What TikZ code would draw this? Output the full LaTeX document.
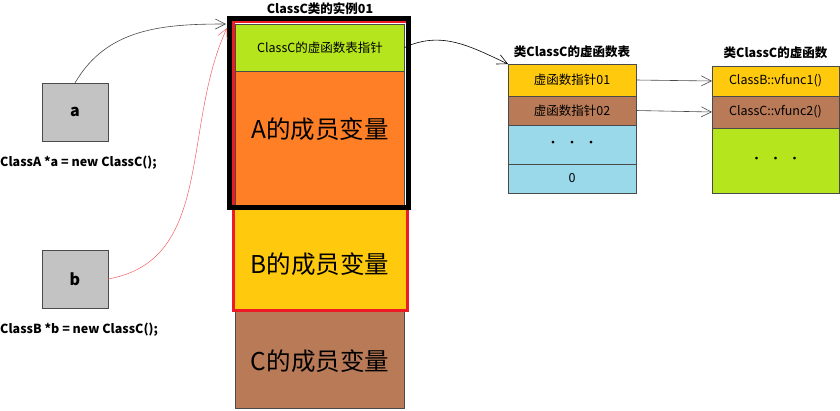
\documentclass[tikz,border=0pt]{standalone}
\usepackage{fontspec}
\setmainfont{Noto Sans CJK SC}
\usetikzlibrary{arrows.meta,positioning}
\definecolor{paintlime}{HTML}{B5E61D}
\definecolor{paintorange}{HTML}{FF7F27}
\definecolor{paintyellow}{HTML}{FFC90E}
\definecolor{paintbrown}{HTML}{B97A57}
\definecolor{paintblue}{HTML}{99D9EA}
\definecolor{paintgray}{HTML}{C3C3C3}
\definecolor{paintred}{HTML}{ED1C24}
\definecolor{edge}{HTML}{4A4A4A}
\newcommand{\threedots}{{\fontsize{13}{13}\selectfont •\hspace{6pt}•\hspace{6pt}•}}

\begin{document}
\begin{tikzpicture}[
    x=1pt, y=-1pt,
    font=\fontsize{12.5}{14}\selectfont,
    cell/.style={draw=edge, line width=0.8pt, inner sep=0pt, outer sep=0pt, align=center},
    member/.style={cell, minimum width=169pt, font=\fontsize{24.5}{28}\selectfont},
    slot/.style={cell, minimum width=128pt},
    fn/.style={cell, minimum width=127pt},
    var/.style={cell, fill=paintgray, minimum width=66pt, minimum height=58pt, font=\fontsize{16}{18}\selectfont\bfseries},
    caption/.style={font=\fontsize{12.5}{14}\selectfont\bfseries},
    arrow/.style={-{Straight Barb[length=10pt,width=10pt]}, line width=0.6pt}
]
\useasboundingbox (0,0) rectangle (840,410);

% pointers
\node[var] (a) at (75,112) {a};
\node[caption, anchor=west, inner sep=0pt] (adecl) at (0,163) {ClassA *a = new ClassC();};
\node[var] (b) at (75,279) {b};
\node[caption, anchor=west, inner sep=0pt] (bdecl) at (0,330) {ClassB *b = new ClassC();};

% object layout
\node[cell, fill=paintlime, minimum width=169pt, minimum height=47pt] (vptr) at (320,47.5) {ClassC的虚函数表指针};
\node[member, fill=paintorange, minimum height=138pt, text depth=24pt, below=0pt of vptr] (amem) {A的成员变量};
\node[member, fill=paintyellow, minimum width=174pt, minimum height=101pt, text height=30pt, below=0pt of amem] (bmem) {B的成员变量};
\node[member, fill=paintbrown, minimum height=98pt, text height=26pt, below=0pt of bmem] (cmem) {C的成员变量};
\draw[paintred, line width=3pt] (233.5,21.5) rectangle (407.5,310);
\draw[black, line width=5pt] (229.5,18.5) rectangle (408.5,207.5);
\node[caption] (objtitle) at (320,9) {ClassC类的实例01};

% vtable
\node[slot, fill=paintyellow, minimum height=32pt] (vt1) at (572,80) {虚函数指针01};
\node[slot, fill=paintbrown, minimum height=29pt, below=0pt of vt1] (vt2) {虚函数指针02};
\node[slot, fill=paintblue, minimum height=39pt, below=0pt of vt2] (vt3) {\threedots};
\node[slot, fill=paintblue, minimum height=29pt, below=0pt of vt3] (vt4) {0};
\node[caption, above=3pt of vt1] (vttitle) {类ClassC的虚函数表};

% virtual functions
\node[fn, fill=paintyellow, minimum height=30pt] (fn1) at (775.5,81) {ClassB::vfunc1()};
\node[fn, fill=paintbrown, minimum height=32pt, below=0pt of fn1] (fn2) {ClassC::vfunc2()};
\node[fn, fill=paintlime, minimum height=65pt, below=0pt of fn2] (fn3) {\threedots};
\node[caption, above=4pt of fn1] (fntitle) {类ClassC的虚函数};

\coordinate (ahit) at (226,24);
\coordinate (bhit) at (227,28);
\draw[arrow, edge] (a.north) to[out=60, in=180] (ahit);
\draw[arrow, paintred!70, line width=0.5pt] (b.east) to[out=10, in=245] (bhit);
\draw[arrow, black] (vptr.east) to[out=25, in=155] (vt1.north west);
\draw[arrow, edge] (vt1.east) -- (fn1.west);
\draw[arrow, edge] (vt2.east) -- (fn2.west);
\end{tikzpicture}
\end{document}
